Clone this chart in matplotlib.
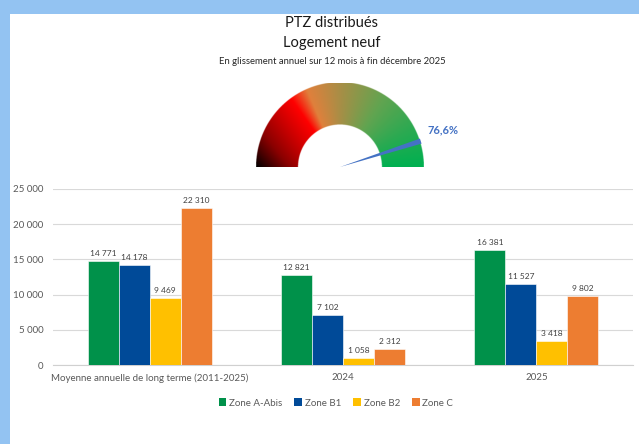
import numpy as np
import matplotlib
matplotlib.use("Agg")
import matplotlib.pyplot as plt
from matplotlib.colors import LinearSegmentedColormap
from matplotlib.patches import Rectangle, Polygon, Patch

plt.rcParams['font.family'] = ['Lato', 'DejaVu Sans']

# Bar chart data
categories = ["Moyenne annuelle de long terme (2011-2025)", "2024", "2025"]
zones = ["Zone A-Abis", "Zone B1", "Zone B2", "Zone C"]
zone_a = [14771, 12821, 16381]
zone_b1 = [14178, 7102, 11527]
zone_b2 = [9469, 1058, 3418]
zone_c = [22310, 2312, 9802]
colors = ["#00914A", "#004A98", "#FFC000", "#ED7D31"]

# Gauge data
gauge_value = 76.6
gauge_max = 85.0  # scale end estimated from the needle position
gauge_label = "76,6%"

W, H = 639, 444
fig = plt.figure(figsize=(W / 100, H / 100), dpi=100)
fig.patch.set_facecolor("#93C3F2")
# white panel
fig.patches.append(Rectangle((10 / W, 0), 1 - 10 / W, 1 - 14 / H,
                             transform=fig.transFigure, facecolor="white",
                             edgecolor="none", zorder=-10))

def fmt(v):
    return f"{v:,}".replace(",", " ")

# titles
fig.text(332 / W, 1 - 23 / H, "PTZ distribués", ha="center", va="center",
         fontsize=10.5, color="#1a1a1a")
fig.text(332 / W, 1 - 43 / H, "Logement neuf", ha="center", va="center",
         fontsize=10.5, color="#1a1a1a")
fig.text(332 / W, 1 - 62 / H, "En glissement annuel sur 12 mois à fin décembre 2025",
         ha="center", va="center", fontsize=6.8, color="#262626")

# ---- gauge ----
gx = fig.add_axes([256 / W, (H - 167) / H, 168 / W, 84 / H])
gx.set_xlim(-1, 1)
gx.set_ylim(0, 1)
gx.axis("off")
r_in = 0.5
n = 500
X, Y = np.meshgrid(np.linspace(-1, 1, 2 * n), np.linspace(0, 1, n))
R = np.hypot(X, Y)
s = 1 - np.degrees(np.arctan2(Y, X)) / 180
rn = np.clip((R - r_in) / (1 - r_in), 0, 1)
t = np.clip(s + 0.16 * (1 - rn) * np.clip(1 - s / 0.3, 0, 1), 0, 1)
stops = [(0.0, "#000000"), (0.13, "#8A0000"), (0.30, "#FF0000"),
         (0.37, "#E0803C"), (0.50, "#A88E46"), (0.68, "#62A450"),
         (0.85, "#2AAA52"), (1.0, "#00B050")]
cmap = LinearSegmentedColormap.from_list("gauge", stops)
rgba = cmap(t)
rgba[..., 3] = ((R >= r_in) & (R <= 1)).astype(float)
gx.imshow(rgba, extent=(-1, 1, 0, 1), origin="lower", interpolation="bilinear",
          aspect="auto")
ang = np.radians(180 * (1 - gauge_value / gauge_max))
half = np.radians(1.8)
needle = [(0, 0),
          (1.01 * np.cos(ang - half), 1.01 * np.sin(ang - half)),
          (1.01 * np.cos(ang + half), 1.01 * np.sin(ang + half))]
gx.add_patch(Polygon(needle, closed=True, facecolor="#4472C4", edgecolor="none"))
gx.text(1.04, 0.44, gauge_label, ha="left", va="center", fontsize=8,
        fontweight="bold", color="#4472C4", clip_on=False)

# ---- bar chart ----
ax = fig.add_axes([53 / W, 1 - 365 / H, 580 / W, 176 / H])
x = np.arange(len(categories))
width = 0.16
series = [zone_a, zone_b1, zone_b2, zone_c]
for i, (name, vals, c) in enumerate(zip(zones, series, colors)):
    pos = x + (i - 1.5) * width
    ax.bar(pos, vals, width, color=c, edgecolor="white", linewidth=0.4, zorder=3)
    for px, v in zip(pos, vals):
        ax.text(px, v + 550, fmt(v), ha="center", va="bottom", fontsize=6,
                color="#404040")

ax.set_xlim(-0.5, len(categories) - 0.5)
ax.set_ylim(0, 25000)
ax.set_yticks(np.arange(0, 25001, 5000))
ax.set_yticklabels([fmt(v) for v in range(0, 25001, 5000)])
ax.set_xticks(x)
ax.set_xticklabels(categories)
ax.grid(axis="y", color="#D9D9D9", linewidth=0.8, zorder=0)
for sp in ["top", "right", "left"]:
    ax.spines[sp].set_visible(False)
ax.spines["bottom"].set_color("#D0D0D0")
ax.tick_params(axis="y", length=0, pad=7, labelsize=7, labelcolor="#595959")
ax.tick_params(axis="x", length=0, pad=6, labelsize=7, labelcolor="#595959")
ax.set_facecolor("none")

handles = [Patch(facecolor=c, edgecolor="none") for c in colors]
fig.legend(handles, zones, loc="center", bbox_to_anchor=(336 / W, 1 - 403 / H),
           ncol=4, frameon=False, fontsize=7, handlelength=0.8,
           handleheight=0.8, handletextpad=0.3, columnspacing=1.2,
           labelcolor="#595959")

fig.savefig("out.png", dpi=100, facecolor=fig.get_facecolor())
